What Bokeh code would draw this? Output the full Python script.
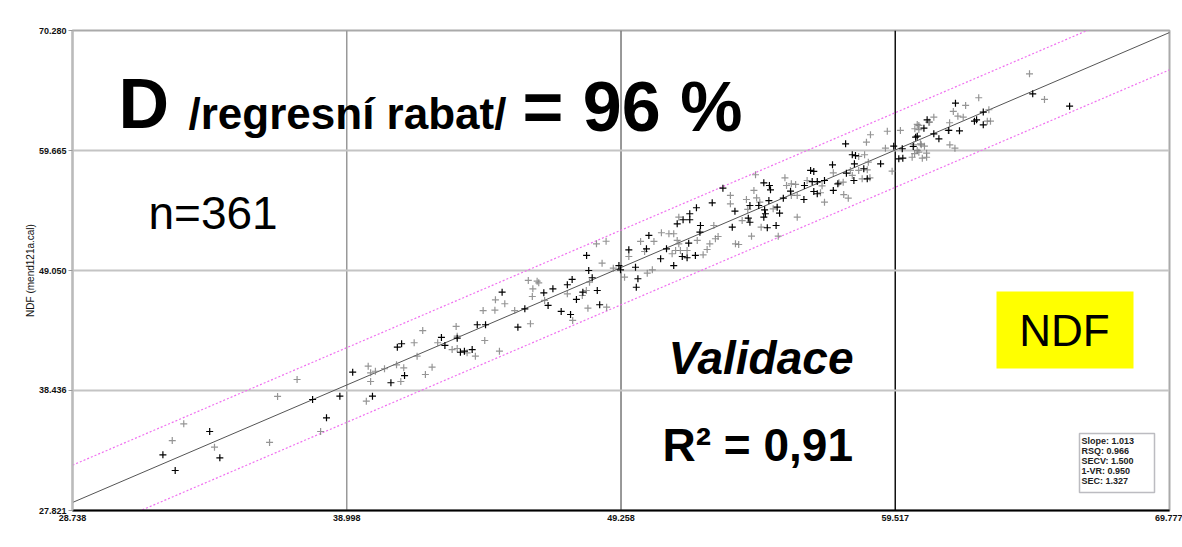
from bokeh.plotting import figure
from bokeh.models import Range1d, FixedTicker, Span, Label, BoxAnnotation
from bokeh.embed import file_html
from bokeh.resources import INLINE

# ---------------- data ----------------
x_ticks = [28.738, 38.998, 49.258, 59.517, 69.777]
y_ticks = [27.821, 38.436, 49.050, 59.665, 70.280]
x_tick_labels = ["28.738", "38.998", "49.258", "59.517", "69.777"]
y_tick_labels = ["27.821", "38.436", "49.050", "59.665", "70.280"]

black_x = [32.12, 32.58, 33.87, 34.25, 37.72, 38.24, 38.74, 39.22, 39.96, 40.65, 41.16, 40.89, 41.05,
           42.54, 42.67, 43.13, 43.25, 43.40, 43.69, 43.88, 44.19, 45.40, 44.81, 45.66, 46.37, 46.53,
           46.71, 47.02, 47.25, 47.43, 47.59, 47.37, 47.83, 48.37, 48.46, 48.18, 48.05, 47.97, 49.18,
           49.24, 49.55, 49.80, 49.89, 49.83, 50.21, 50.30, 50.74, 50.96, 51.36, 51.58, 51.83, 51.83,
           52.08, 51.79, 51.55, 51.73, 52.04, 52.23, 52.21, 52.67, 51.23, 53.07, 53.52, 53.42, 54.02,
           54.08, 54.08, 54.41, 54.63, 54.60, 54.66, 54.73, 54.60, 54.81, 54.85, 54.79, 55.10, 55.19,
           55.06, 55.60, 55.33, 56.10, 56.12, 56.47, 56.60, 56.35, 56.47, 56.41, 56.60, 56.87, 57.17,
           57.37, 57.20, 57.69, 57.66, 57.91, 58.03, 57.99, 57.97, 58.47, 58.34, 58.97, 59.46, 59.65,
           59.80, 59.78, 60.19, 60.34, 60.96, 61.15, 64.66, 66.04, 61.77, 61.92, 62.48, 62.56, 62.81,
           62.81, 61.52, 60.71, 60.59, 60.28]
black_y = [32.75, 31.36, 34.81, 32.48, 37.64, 36.02, 37.93, 40.06, 37.93, 39.12, 39.76, 42.27, 42.57,
           43.13, 42.42, 43.06, 41.82, 41.91, 42.06, 44.25, 44.25, 44.04, 47.13, 45.66, 47.08, 45.96,
           47.43, 45.43, 47.79, 48.26, 46.49, 45.16, 47.13, 47.28, 46.02, 48.41, 49.05, 50.38, 49.49,
           49.11, 50.88, 49.34, 48.32, 47.57, 50.97, 52.15, 50.09, 50.97, 53.18, 53.54, 53.54, 54.07,
           54.60, 51.47, 50.29, 50.18, 50.38, 53.03, 52.44, 55.04, 49.49, 56.33, 54.30, 52.88, 53.68,
           53.32, 54.80, 54.80, 54.42, 53.77, 54.07, 52.83, 56.81, 56.57, 56.19, 55.24, 54.65, 54.12,
           53.03, 56.07, 55.45, 55.33, 56.57, 56.04, 55.84, 57.90, 57.81, 56.92, 56.92, 57.01, 58.40,
           56.72, 56.13, 57.66, 60.26, 59.29, 59.22, 58.49, 57.01, 57.16, 58.05, 58.49, 60.05, 58.93,
           58.99, 59.82, 60.02, 60.93, 61.14, 60.70, 64.68, 63.59, 63.85, 61.41, 62.26, 62.38, 63.06,
           61.94, 61.44, 62.38, 61.64, 60.84]

gray_x = [32.90, 32.47, 34.05, 36.11, 36.41, 37.14, 38.02, 39.80, 39.89, 40.07, 40.41, 40.86, 39.89,
          39.73, 41.02, 41.13, 41.52, 41.84, 41.63, 42.19, 41.94, 42.40, 43.13, 42.94, 43.13, 43.50,
          43.81, 44.16, 44.71, 43.09, 45.87, 44.10, 44.54, 44.56, 44.91, 45.28, 45.79, 46.12, 46.18,
          45.96, 45.94, 46.40, 47.25, 47.45, 47.81, 47.96, 48.02, 48.72, 48.08, 48.34, 48.70, 48.55,
          48.97, 49.39, 49.55, 50.24, 50.43, 49.99, 50.14, 50.49, 50.77, 51.05, 51.23, 51.42, 51.36,
          51.42, 51.30, 51.17, 51.48, 51.73, 52.33, 52.11, 52.48, 52.58, 52.73, 52.89, 52.79, 53.35,
          53.35, 53.54, 53.66, 54.14, 53.79, 54.23, 54.29, 53.95, 54.00, 54.33, 54.45, 54.50, 54.95,
          55.14, 55.39, 55.45, 55.63, 55.79, 55.63, 55.85, 55.85, 56.22, 56.78, 56.87, 56.72, 57.20,
          57.41, 57.57, 57.59, 57.76, 58.15, 58.37, 58.15, 57.84, 57.91, 58.28, 58.57, 58.47, 58.51,
          58.59, 58.44, 59.22, 59.40, 59.71, 60.34, 60.15, 60.53, 60.49, 60.40, 60.40, 60.77, 61.50,
          60.69, 60.24, 64.54, 65.10, 62.64, 62.15, 61.69, 61.86, 62.06, 61.55, 61.56, 61.75, 62.96,
          63.08, 63.02, 60.96, 60.80, 60.25, 60.34, 60.46, 60.61, 60.21, 60.40, 60.69, 59.15]
gray_y = [35.49, 34.01, 33.42, 33.84, 37.91, 39.41, 34.81, 40.59, 40.00, 40.14, 40.36, 40.71, 39.23,
          37.49, 39.23, 40.44, 42.66, 43.74, 41.47, 40.50, 39.85, 42.66, 43.24, 42.06, 42.15, 41.77,
          41.47, 42.86, 41.91, 44.10, 44.34, 45.51, 45.54, 46.46, 46.11, 45.51, 48.17, 48.11, 47.96,
          47.43, 46.75, 46.40, 46.99, 44.63, 46.84, 47.28, 45.72, 45.81, 48.02, 51.41, 51.64, 49.70,
          49.26, 48.46, 50.29, 48.81, 49.11, 51.62, 50.73, 51.62, 52.39, 52.30, 52.30, 53.77, 51.71,
          51.41, 50.82, 50.53, 50.82, 50.82, 50.44, 51.71, 50.91, 51.41, 53.03, 52.06, 51.86, 55.69,
          54.95, 51.41, 51.35, 52.09, 53.47, 56.13, 57.52, 55.33, 54.45, 55.48, 55.09, 52.88, 54.51,
          52.09, 57.25, 56.57, 56.72, 56.66, 55.69, 55.69, 53.77, 57.01, 56.54, 55.09, 55.93, 57.69,
          56.81, 56.86, 55.77, 55.45, 59.14, 59.29, 57.90, 57.90, 57.46, 57.16, 57.25, 57.96, 58.63,
          61.06, 60.40, 61.37, 57.84, 61.44, 59.67, 59.07, 58.99, 60.17, 61.52, 61.88, 62.17, 61.44,
          59.43, 59.38, 66.45, 64.18, 64.33, 63.65, 63.12, 62.70, 62.61, 62.12, 60.17, 59.87, 62.26,
          62.26, 63.27, 62.61, 62.17, 61.59, 61.97, 60.26, 60.05, 60.17, 59.52, 59.07, 59.87]

fit_x = [28.738, 69.777]
fit_y = [28.53, 70.10]
band_hi_y = [31.83, 73.40]
band_lo_y = [25.23, 66.80]

stats_lines = ["Slope: 1.013", "RSQ: 0.966", "SECV: 1.500", "1-VR: 0.950", "SEC: 1.327"]

# ---------------- figure ----------------
X0, X1 = x_ticks[0], x_ticks[-1]
Y0, Y1 = y_ticks[0], y_ticks[-1]
FL, FR, FT, FB = 72, 1169, 30, 510


def X(px):
    return X0 + (px - FL) * (X1 - X0) / (FR - FL)


def Y(py):
    return Y0 + (FB - py) * (Y1 - Y0) / (FB - FT)


p = figure(width=1182, height=547, output_backend="svg", toolbar_location=None,
           x_range=Range1d(X0, X1), y_range=Range1d(Y0, Y1),
           min_border_left=FL, min_border_right=1182 - FR, min_border_top=FT,
           min_border_bottom=547 - FB, background_fill_color="white", border_fill_color="white")
p.xgrid.visible = False
p.ygrid.visible = False
p.outline_line_color = "#aaaaaa"
p.outline_line_width = 2

TICKFONT = "Liberation Sans"

p.xaxis.ticker = FixedTicker(ticks=x_ticks)
p.xaxis.major_label_overrides = dict(zip(x_ticks, x_tick_labels))
p.xaxis.major_tick_out = 0
p.xaxis.major_tick_in = 0
p.xaxis.minor_tick_out = 0
p.xaxis.minor_tick_in = 0
p.xaxis.axis_line_color = "black"
p.xaxis.axis_line_width = 2
p.xaxis.major_label_text_font = TICKFONT
p.xaxis.major_label_text_font_style = "bold"
p.xaxis.major_label_text_font_size = "9px"
p.xaxis.major_label_text_color = "#111111"
p.xaxis.major_label_standoff = 4

p.yaxis.ticker = FixedTicker(ticks=y_ticks)
p.yaxis.major_label_overrides = dict(zip(y_ticks, y_tick_labels))
p.yaxis.major_tick_out = 4
p.yaxis.major_tick_in = 0
p.yaxis.minor_tick_out = 0
p.yaxis.minor_tick_in = 0
p.yaxis.major_tick_line_color = "#999999"
p.yaxis.axis_line_color = "#bbbbbb"
p.yaxis.axis_line_width = 2
p.yaxis.major_label_text_font = TICKFONT
p.yaxis.major_label_text_font_style = "bold"
p.yaxis.major_label_text_font_size = "9px"
p.yaxis.major_label_text_color = "#111111"
p.yaxis.major_label_standoff = 2
p.yaxis.axis_label = "NDF (mend121a.cal)"
p.yaxis.axis_label_text_font = TICKFONT
p.yaxis.axis_label_text_font_style = "normal"
p.yaxis.axis_label_text_font_size = "10px"
p.yaxis.axis_label_text_color = "#111111"
p.yaxis.axis_label_standoff = 0

# grid lines
for loc, col, w in [(x_ticks[1], "#999999", 1.5), (x_ticks[2], "#777777", 1.5), (x_ticks[3], "#111111", 1.5)]:
    p.add_layout(Span(location=loc, dimension="height", line_color=col, line_width=w, level="underlay"))
for loc in y_ticks[1:4]:
    p.add_layout(Span(location=loc, dimension="width", line_color="#c4c4c4", line_width=2, level="underlay"))

# band and fit lines
p.line(fit_x, band_hi_y, line_color="#f070f0", line_width=1.2, line_dash="2 2")
p.line(fit_x, band_lo_y, line_color="#f070f0", line_width=1.2, line_dash="2 2")
p.line(fit_x, fit_y, line_color="#555555", line_width=1)

# points
p.scatter(gray_x, gray_y, marker="cross", size=7, line_color="#7a7a7a", line_alpha=0.8, line_width=1.2)
p.scatter(black_x, black_y, marker="cross", size=7, line_color="black", line_width=1.2)

# ---------------- annotations ----------------
ARIAL = "Liberation Sans"


def lab(px, py, text, size, style="bold", font=ARIAL, align="left", baseline="middle", color="black"):
    p.add_layout(Label(x=X(px), y=Y(py), text=text, text_font=font, text_font_size=f"{size}px",
                       text_font_style=style, text_align=align, text_baseline=baseline,
                       text_color=color))


# title and x axis label
lab(601, 16, "Scatter plot", 9, font=TICKFONT, align="center", color="#111111")
lab(601, 531, "NDF (temp1.anl)", 9, style="normal", font=TICKFONT, align="center", color="#111111")

# yellow NDF box
p.add_layout(BoxAnnotation(left=X(996), right=X(1133), top=Y(291), bottom=Y(368),
                           fill_color="#ffff00", fill_alpha=1, line_alpha=0))
lab(1064, 330, "NDF", 44, style="normal", align="center")

# stats box
p.add_layout(BoxAnnotation(left=X(1079), right=X(1154), top=Y(433), bottom=Y(492),
                           fill_color="white", fill_alpha=1, line_color="#222233", line_width=1.5))
for i, s in enumerate(stats_lines):
    lab(1081, 440 + i * 10, s, 9, font=TICKFONT, color="#222222")

# big overlay texts (vertical centre of capitals)
lab(118, 103, "D", 70)
lab(188, 113, "/regresní rabat/", 44)
lab(522, 106, "= 96 %", 70)
lab(148, 212, "n=361", 46, style="normal")
lab(668, 357, "Validace", 46, style="bold italic")
lab(662, 444, "R² = 0,91", 46)

open("out.html", "w").write(file_html(p, INLINE))
